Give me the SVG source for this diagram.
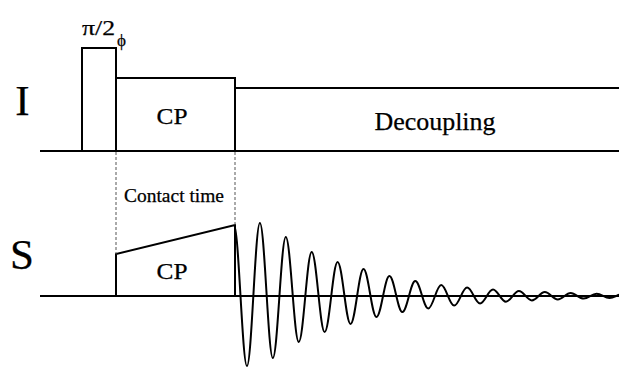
<svg xmlns="http://www.w3.org/2000/svg" width="619" height="367" viewBox="0 0 619 367">
<style>
.ln{fill:none;stroke:#000;stroke-width:2;stroke-linejoin:miter}
.dash{fill:none;stroke:#555;stroke-width:1;stroke-dasharray:3 2}
.t{font-family:"Liberation Serif","Times New Roman",serif;fill:#000;stroke:#000;stroke-width:0.25}
</style>
<rect width="619" height="367" fill="#fff"/>
<g id="channel-I">
<line class="ln" x1="40" y1="151" x2="619" y2="151"/>
<path class="ln" d="M82,151 V48 H116 V151 M116,78 H235 V151 M235,88 H619"/>
<text class="t" x="22.5" y="115" font-size="43" text-anchor="middle">I</text>
</g>
<g id="pulse-pi2">
<text class="t" x="82" y="35" font-size="22" textLength="33" lengthAdjust="spacingAndGlyphs">π/2</text>
<text class="t" x="117" y="46" font-size="17">ϕ</text>
</g>
<g id="cp-I">
<text class="t" x="172" y="124" font-size="23.5" text-anchor="middle" textLength="31" lengthAdjust="spacingAndGlyphs">CP</text>
</g>
<g id="decoupling">
<text class="t" x="435" y="130" font-size="25" text-anchor="middle" textLength="121" lengthAdjust="spacingAndGlyphs">Decoupling</text>
</g>
<g id="channel-S">
<line class="ln" x1="40" y1="296" x2="619" y2="296"/>
<path class="ln" d="M116,296 V254 L235,225 V296"/>
<text class="t" x="22" y="269" font-size="43" text-anchor="middle">S</text>
</g>
<g id="cp-S">
<text class="t" x="172" y="279" font-size="23.5" text-anchor="middle" textLength="31" lengthAdjust="spacingAndGlyphs">CP</text>
</g>
<g id="contact-time">
<text class="t" x="124" y="202" font-size="19" textLength="100" lengthAdjust="spacingAndGlyphs">Contact time</text>
</g>
<g id="fid">
<path class="ln" d="M234,225 C238.71,225 242.24,366 246.95,366 C251.66,366 255.19,223 259.9,223 C264.61,223 268.14,358 272.85,358 C277.56,358 281.09,237 285.8,237 C290.51,237 294.04,342 298.75,342 C303.46,342 306.99,252 311.7,252 C316.41,252 319.94,332 324.65,332 C329.36,332 332.89,262 337.6,262 C342.31,262 345.84,324 350.55,324 C355.26,324 358.79,269 363.5,269 C368.21,269 371.74,317 376.45,317 C381.16,317 384.69,276 389.4,276 C394.11,276 397.64,312 402.35,312 C407.06,312 410.59,281 415.3,281 C420.01,281 423.54,308.5 428.25,308.5 C432.96,308.5 436.49,285 441.2,285 C445.91,285 449.44,305.6 454.15,305.6 C458.86,305.6 462.39,287.5 467.1,287.5 C471.81,287.5 475.34,303.4 480.05,303.4 C484.76,303.4 488.29,289.5 493,289.5 C497.71,289.5 501.24,301.7 505.95,301.7 C510.66,301.7 514.19,291 518.9,291 C523.61,291 527.14,300.4 531.85,300.4 C536.56,300.4 540.09,292.1 544.8,292.1 C549.51,292.1 553.04,299.4 557.75,299.4 C562.46,299.4 565.99,293 570.7,293 C575.41,293 578.94,298.6 583.65,298.6 C588.36,298.6 591.89,293.7 596.6,293.7 C601.31,293.7 604.84,298 609.55,298 C614.26,298 617.79,294.2 622.5,294.2"/>
</g>
<g id="connectors">
<line class="dash" x1="116" y1="152" x2="116" y2="254"/>
<line class="dash" x1="235" y1="152" x2="235" y2="225"/>
</g>
</svg>
